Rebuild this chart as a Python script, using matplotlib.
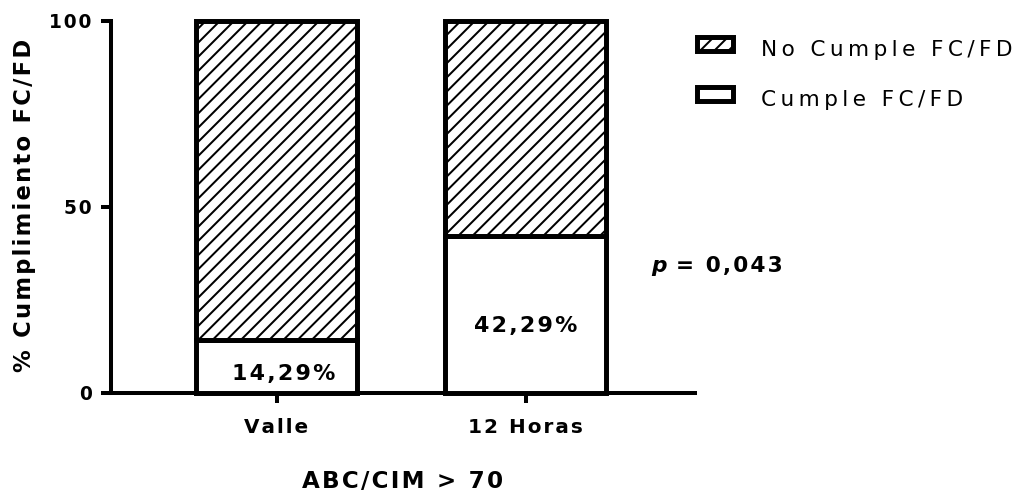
import matplotlib
matplotlib.use("Agg")
import matplotlib.pyplot as plt

# ---- data -------------------------------------------------------------
categories = ["Valle", "12 Horas"]
cumple = [14.29, 42.29]          # % que cumple FC/FD
no_cumple = [85.71, 57.71]       # % que no cumple FC/FD
value_labels = ["14,29%", "42,29%"]
y_ticks = [0, 50, 100]
y_tick_labels = ["0", "50", "100"]
p_value_text = "= 0,043"

# ---- style ------------------------------------------------------------
DPI = 85
W, H = 1018, 493
plt.rcParams["font.family"] = ["DejaVu Sans"]
plt.rcParams["hatch.linewidth"] = 1.7

HAIR = "\u200A"   # letter spacing for the bold labels
THIN = "\u2009"   # wider letter spacing for the legend


def tracked(s, gap=HAIR):
    return gap.join(s)


def fig_xy(px, py):
    return px / W, 1 - py / H


AX_L, AX_R, AX_T, AX_B = 111, 695, 21, 393

fig = plt.figure(figsize=(W / DPI, H / DPI), dpi=DPI)
ax = fig.add_axes([AX_L / W, (H - AX_B) / H, (AX_R - AX_L) / W,
                   (AX_B - AX_T) / H])

x = list(range(len(categories)))
bar_w = 0.6466
edge_lw = 4.2

ax.bar(x, cumple, width=bar_w, color="white", edgecolor="black",
       linewidth=edge_lw, label="Cumple FC/FD", clip_on=False, zorder=3)
ax.bar(x, no_cumple, width=bar_w, bottom=cumple, color="white",
       edgecolor="black", hatch="//", linewidth=edge_lw,
       label="No Cumple FC/FD", clip_on=False, zorder=3)

ax.set_xlim(-0.6647, 1.6807)
ax.set_ylim(0, 100)

for side in ("top", "right"):
    ax.spines[side].set_visible(False)
for side in ("left", "bottom"):
    ax.spines[side].set_linewidth(3.4)
    ax.spines[side].set_capstyle("projecting")

ax.set_yticks(y_ticks)
ax.set_yticklabels([tracked(t) for t in y_tick_labels],
                   fontsize=15.8, fontweight="bold")
ax.set_xticks(x)
ax.set_xticklabels([tracked(c) for c in categories],
                   fontsize=16.9, fontweight="bold")
ax.tick_params(axis="y", length=8.5, width=3.4, pad=8.0)
ax.tick_params(axis="x", length=8.5, width=3.4, pad=12.5)

# value labels inside the white segments
label_y = [5.0, 18.0]
label_dx = [0.03, 0.0]
for xi, lab, ly, dx in zip(x, value_labels, label_y, label_dx):
    ax.text(xi + dx, ly, tracked(lab), ha="center", va="center",
            fontsize=18.7, fontweight="bold", zorder=4)

ax.set_ylabel(tracked("% Cumplimiento FC/FD"), fontsize=19.2,
              fontweight="bold", va="center")
ax.yaxis.set_label_coords((25 - AX_L) / (AX_R - AX_L),
                          (AX_B - 205) / (AX_B - AX_T))

ax.set_xlabel(tracked("ABC/CIM > 70"), fontsize=19.5, fontweight="bold",
              va="center")
ax.xaxis.set_label_coords(0.5, (AX_B - 481) / (AX_B - AX_T))

# p-value annotation
fig.text(*fig_xy(651, 266), "p", ha="left", va="center", fontsize=18.3,
         fontweight="bold", fontstyle="italic")
fig.text(*fig_xy(676, 266), tracked(p_value_text), ha="left", va="center",
         fontsize=18.3, fontweight="bold")

handles, labels = ax.get_legend_handles_labels()
order = [1, 0]
leg = fig.legend([handles[i] for i in order],
                 [tracked(labels[i], THIN) for i in order],
                 loc="upper left", bbox_to_anchor=fig_xy(697, 40),
                 frameon=False, borderpad=0, borderaxespad=0,
                 fontsize=18.3, handlelength=1.66, handleheight=0.6,
                 handletextpad=1.3, labelspacing=1.38)
# keys sit slightly above the text centre line
for key in leg.legend_handles:
    key.set_y(key.get_y() + 3.5)

fig.savefig("out.png", dpi=DPI)
